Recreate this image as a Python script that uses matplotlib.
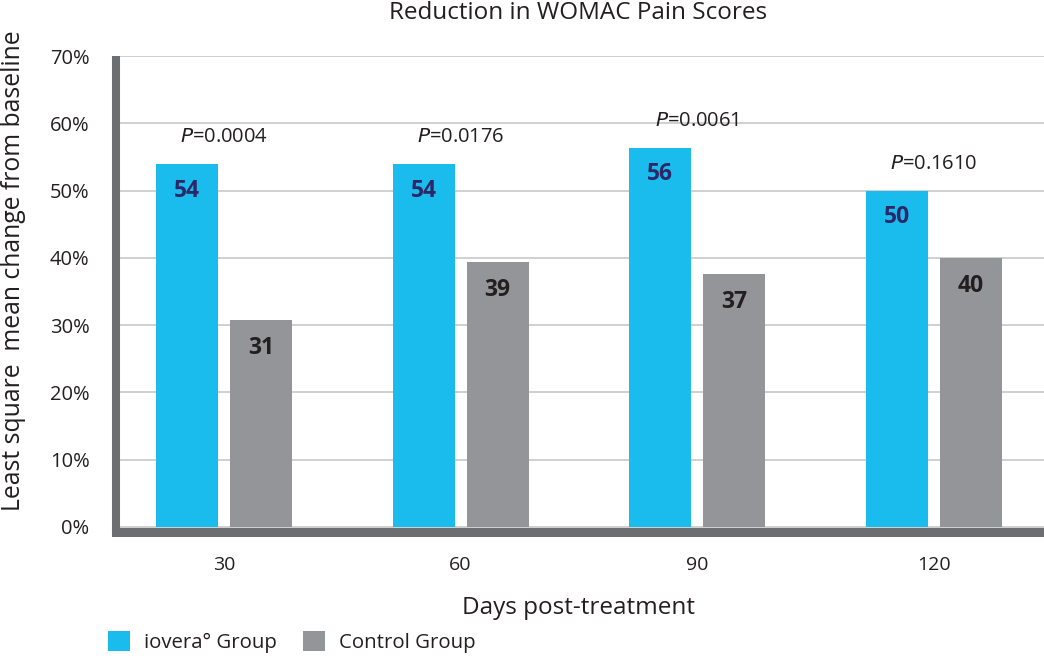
import numpy as np
import matplotlib
matplotlib.use('Agg')
import matplotlib.pyplot as plt

# data
days = ['30', '60', '90', '120']
iovera = [53.9, 53.9, 56.3, 49.9]
control = [30.8, 39.4, 37.6, 40.0]
iovera_labels = ['54', '54', '56', '50']
control_labels = ['31', '39', '37', '40']
p_values = ['0.0004', '0.0176', '0.0061', '0.1610']

CYAN = '#1ABCED'
GRAY = '#939598'
SPINE = '#6D6E71'
NAVY = '#2E2767'
DARK = '#231F20'

plt.rcParams['font.family'] = ['Open Sans', 'DejaVu Sans']

W, H = 1044, 656
fig = plt.figure(figsize=(W / 100, H / 100), dpi=100)
# axes box in pixels: left spine centre 116, top 56, bottom spine centre 531.5
left, right, top, bottom = 116, 1044, 56, 531.5
ax = fig.add_axes([left / W, 1 - bottom / H, (right - left) / W, (bottom - top) / H])

x = np.arange(len(days))
width = 0.262
off = 0.156
ax.bar(x - off, iovera, width, color=CYAN, label='iovera° Group', zorder=2)
ax.bar(x + off, control, width, color=GRAY, label='Control Group', zorder=2)

for i in range(len(days)):
    ax.text(x[i] - off, iovera[i] - 3.9, iovera_labels[i], ha='center', va='center',
            fontsize=16.5, fontweight='bold', color=NAVY, zorder=3)
    ax.text(x[i] + off, control[i] - 4.2, control_labels[i], ha='center', va='center',
            fontsize=16.5, fontweight='bold', color=DARK, zorder=3)
    ax.text(x[i], iovera[i] + 4.0, '$\\it{P}$=' + p_values[i], ha='center', va='center',
            fontsize=14.5, color=DARK, zorder=3)

ax.set_xlim(-0.456, 3.465)
ax.set_ylim(-0.67, 70)
ax.set_yticks(np.arange(0, 71, 10))
ax.set_yticklabels([f'{v}%' for v in range(0, 71, 10)], fontsize=14.5, color=DARK)
ax.set_xticks(x)
ax.set_xticklabels(days, fontsize=14, color=DARK)
ax.tick_params(length=0)
ax.tick_params(axis='y', pad=19)
ax.tick_params(axis='x', pad=18)

ax.yaxis.grid(True, color='#C8C8C8', linewidth=1.2, zorder=0)
ax.set_axisbelow(True)

for side in ['top', 'right']:
    ax.spines[side].set_visible(False)
ax.spines['left'].set_color(SPINE)
ax.spines['left'].set_linewidth(5.8)
ax.spines['bottom'].set_color(SPINE)
ax.spines['bottom'].set_linewidth(6.5)
ax.spines['left'].set_capstyle('butt')

fig.text(578 / W, 1 - 13 / H, 'Reduction in WOMAC Pain Scores', ha='center', va='center',
         fontsize=17.5, color=DARK)
fig.text(14 / W, 1 - 271 / H, 'Least square  mean change from baseline', rotation=90,
         ha='center', va='center', fontsize=17.8, color=DARK)
fig.text(578 / W, 1 - 608 / H, 'Days post-treatment', ha='center', va='center',
         fontsize=17.5, color=DARK)

ax.legend(loc='center left', bbox_to_anchor=(108 / W, 1 - 642 / H), bbox_transform=fig.transFigure,
          ncol=2, frameon=False, fontsize=14.7, handlelength=1.08, handleheight=1.1,
          handletextpad=0.69, columnspacing=1.27, borderaxespad=0, borderpad=0)
for t in ax.get_legend().get_texts():
    t.set_color(DARK)

fig.savefig('out.png', dpi=100)
